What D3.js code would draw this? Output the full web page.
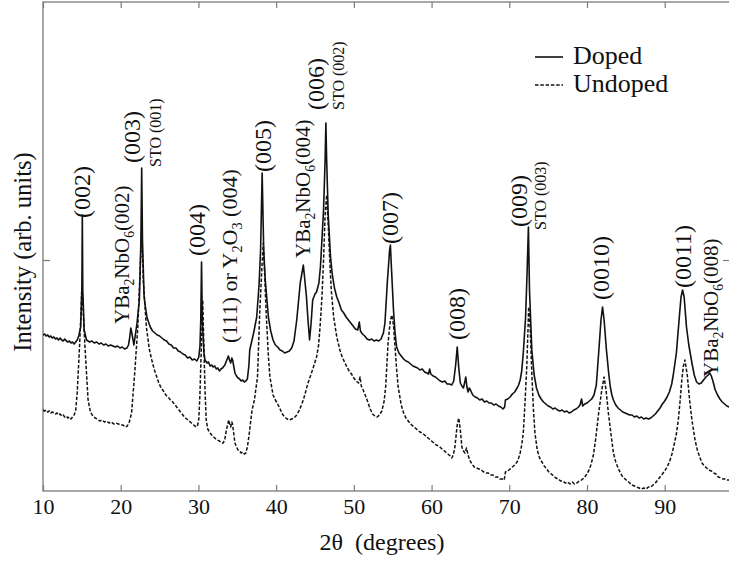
<!DOCTYPE html>
<html>
<head>
<meta charset="utf-8">
<script src="https://cdn.jsdelivr.net/npm/d3@7"></script>
<style>
  html, body { margin: 0; padding: 0; background: #fff; }
  svg { display: block; font-family: "Liberation Serif", "Times New Roman", "DejaVu Serif", serif; }
  svg text { font-family: "Liberation Serif", "Times New Roman", "DejaVu Serif", serif; fill: #111; }
</style>
</head>
<body>
<svg id="chart" width="729" height="562"></svg>
<script>
const SERIF = "'Liberation Serif', 'Times New Roman', 'DejaVu Serif', serif";

// XRD scans: [2θ (degrees), intensity (arb. units)]
const dopedScan = [
  [10.0,156],[10.2,157],[10.4,155],[10.6,156],[10.8,154],[11.0,155],[11.2,153],[11.4,154],[11.6,152],[11.8,153],
  [12.0,151],[12.2,153],[12.4,151],[12.6,150],[12.8,152],[13.0,150],[13.2,149],[13.4,150],[13.6,148],[13.8,149],
  [14.0,147],[14.2,149],[14.4,151],[14.6,155],[14.85,164],[15.0,201],[15.06,276],[15.12,201],[15.3,161],[15.6,151],
  [15.8,150],[16.0,149],[16.3,150],[16.6,148],[16.9,149],[17.2,147],[17.5,148],[17.8,146],[18.1,147],[18.4,145],
  [18.7,146],[19.0,145],[19.3,144],[19.6,145],[19.9,143],[20.2,144],[20.5,142],[20.8,143],[21.0,146],[21.15,153],
  [21.3,163],[21.5,155],[21.7,146],[21.9,157],[22.1,168],[22.4,191],[22.6,251],[22.7,323],[22.8,251],[23.0,196],
  [23.1,188],[23.4,173],[23.8,164],[24.1,160],[24.4,158],[24.7,156],[25.0,155],[25.3,153],[25.6,151],[25.9,150],
  [26.2,147],[26.5,146],[26.8,143],[27.1,143],[27.4,140],[27.7,139],[28.0,137],[28.3,136],[28.6,133],[28.9,134],
  [29.2,131],[29.5,132],[29.8,130],[30.05,134],[30.2,145],[30.3,171],[30.4,229],[30.5,171],[30.7,139],[30.85,131],
  [31.1,128],[31.3,129],[31.5,125],[31.7,126],[31.9,124],[32.1,125],[32.3,122],[32.5,123],[32.7,120],[32.9,122],
  [33.1,123],[33.4,126],[33.65,131],[33.85,135],[34.0,131],[34.15,128],[34.3,133],[34.4,131],[34.7,118],[34.9,115],
  [35.1,113],[35.3,112],[35.5,110],[35.7,111],[35.9,109],[36.1,110],[36.3,112],[36.5,126],[36.6,141],[36.9,151],
  [37.1,158],[37.5,174],[37.8,206],[38.0,241],[38.2,318],[38.4,241],[38.6,211],[39.0,174],[39.3,160],[39.6,151],
  [39.9,146],[40.2,144],[40.5,141],[40.8,140],[41.1,138],[41.4,139],[41.7,140],[42.0,143],[42.3,150],[42.65,171],
  [43.1,208],[43.5,226],[43.9,194],[44.1,171],[44.3,151],[44.5,168],[44.7,191],[45.0,197],[45.2,199],[45.5,208],
  [45.7,224],[46.1,281],[46.3,331],[46.4,368],[46.5,331],[46.7,276],[47.0,234],[47.2,218],[47.5,203],[47.8,194],
  [48.1,188],[48.4,181],[48.7,178],[49.0,174],[49.3,171],[49.6,168],[49.9,165],[50.2,162],[50.5,161],[50.7,169],
  [50.85,160],[51.1,157],[51.4,155],[51.7,152],[52.0,151],[52.3,152],[52.6,150],[52.9,151],[53.2,150],[53.5,152],
  [53.8,158],[54.0,168],[54.3,208],[54.6,241],[54.7,246],[54.85,221],[55.1,181],[55.3,158],[55.5,144],[55.8,138],
  [56.1,135],[56.4,132],[56.7,130],[57.0,129],[57.3,127],[57.6,125],[57.9,124],[58.2,123],[58.5,121],[58.8,122],
  [59.1,119],[59.4,118],[59.6,117],[59.75,122],[59.9,117],[60.2,115],[60.5,114],[60.8,112],[61.1,110],[61.4,109],
  [61.7,110],[62.0,107],[62.3,107],[62.6,106],[62.85,110],[63.1,126],[63.3,144],[63.5,123],[63.7,108],[63.9,105],
  [64.1,103],[64.3,110],[64.4,114],[64.55,104],[64.7,99],[64.85,103],[65.0,101],[65.3,96],[65.6,94],[65.9,93],
  [66.2,91],[66.5,92],[66.8,89],[67.1,90],[67.4,88],[67.7,88],[68.0,86],[68.3,87],[68.6,85],[68.9,84],
  [69.2,82],[69.4,84],[69.5,91],[69.8,92],[70.1,94],[70.4,97],[70.7,99],[71.0,103],[71.2,106],[71.4,111],
  [71.6,120],[71.8,138],[72.1,174],[72.3,221],[72.46,264],[72.6,201],[72.9,141],[73.2,116],[73.5,103],[73.8,96],
  [74.1,92],[74.4,89],[74.7,87],[75.0,85],[75.3,84],[75.6,82],[75.9,83],[76.2,81],[76.5,80],[76.8,81],
  [77.1,79],[77.4,80],[77.7,78],[78.0,79],[78.3,81],[78.6,82],[78.9,84],[79.1,86],[79.3,92],[79.45,85],
  [79.7,87],[80.0,88],[80.3,90],[80.6,92],[80.9,96],[81.2,106],[81.5,138],[81.8,171],[82.0,184],[82.2,171],
  [82.5,141],[82.8,117],[83.0,104],[83.2,96],[83.4,91],[83.7,86],[84.0,83],[84.3,81],[84.6,79],[84.9,78],
  [85.2,77],[85.5,76],[85.8,76],[86.1,74],[86.4,75],[86.7,73],[87.0,74],[87.3,72],[87.6,73],[87.9,72],
  [88.2,73],[88.5,75],[88.8,77],[89.1,80],[89.4,83],[89.7,87],[90.0,90],[90.3,94],[90.6,99],[90.9,107],
  [91.1,116],[91.5,138],[91.9,176],[92.1,194],[92.3,201],[92.5,194],[92.8,164],[93.1,146],[93.5,128],[93.8,116],
  [94.1,109],[94.4,107],[94.7,108],[95.0,111],[95.3,114],[95.6,116],[95.8,118],[96.0,115],[96.2,110],[96.5,101],
  [96.8,96],[97.1,92],[97.4,89],[97.7,87],[98.0,85],[98.3,84],[98.6,82],[99.0,81]
];

const undopedScan = [
  [10.0,81],[10.2,80],[10.4,81],[10.6,79],[10.8,80],[11.0,78],[11.2,79],[11.4,78],[11.6,77],[11.8,78],
  [12.0,76],[12.2,77],[12.4,75],[12.6,76],[12.8,74],[13.0,75],[13.2,73],[13.4,74],[13.6,72],[13.8,74],
  [14.0,76],[14.2,80],[14.4,98],[14.7,144],[14.9,181],[15.0,206],[15.1,191],[15.4,144],[15.8,91],[16.1,79],
  [16.4,75],[16.7,73],[17.0,72],[17.3,70],[17.6,71],[17.9,69],[18.2,70],[18.5,68],[18.8,69],[19.1,67],
  [19.4,68],[19.7,67],[20.0,66],[20.3,66],[20.6,64],[20.85,65],[21.1,69],[21.4,78],[21.8,118],[22.2,164],
  [22.5,221],[22.7,261],[22.9,211],[23.3,164],[23.7,141],[24.0,131],[24.3,122],[24.6,115],[24.9,108],[25.2,103],
  [25.5,100],[25.8,96],[26.1,94],[26.4,91],[26.7,89],[27.0,86],[27.3,83],[27.6,80],[27.9,77],[28.2,74],
  [28.5,72],[28.8,70],[29.1,68],[29.4,66],[29.7,64],[29.9,66],[30.05,72],[30.2,98],[30.4,151],[30.55,191],
  [30.7,146],[30.85,100],[31.0,71],[31.2,62],[31.5,58],[31.8,55],[32.1,53],[32.4,51],[32.7,50],[33.0,48],
  [33.2,48],[33.4,52],[33.6,61],[33.9,71],[34.05,66],[34.15,64],[34.3,69],[34.4,66],[34.7,48],[34.9,44],
  [35.1,41],[35.3,40],[35.5,38],[35.7,39],[35.9,37],[36.1,38],[36.3,44],[36.5,55],[36.9,81],[37.2,91],
  [37.6,114],[37.9,181],[38.15,221],[38.35,248],[38.5,221],[38.7,181],[39.0,135],[39.2,114],[39.6,96],[39.9,91],
  [40.2,87],[40.5,82],[40.8,77],[41.1,74],[41.4,72],[41.7,71],[42.0,72],[42.3,73],[42.65,76],[43.0,81],
  [43.5,91],[44.1,108],[44.5,117],[44.8,124],[45.2,134],[45.45,145],[45.65,164],[45.9,195],[46.1,231],[46.3,276],
  [46.5,296],[46.7,266],[46.9,231],[47.1,200],[47.4,174],[47.8,154],[48.2,141],[48.5,134],[48.8,129],[49.1,124],
  [49.4,120],[49.7,117],[50.0,113],[50.3,110],[50.6,108],[50.8,114],[50.95,105],[51.2,101],[51.5,95],[51.8,89],
  [52.1,82],[52.4,77],[52.7,75],[53.0,74],[53.3,76],[53.6,80],[53.9,90],[54.1,105],[54.4,148],[54.7,171],
  [54.9,176],[55.1,166],[55.3,144],[55.5,122],[55.7,104],[56.1,86],[56.4,78],[56.7,73],[57.0,70],[57.3,67],
  [57.6,65],[57.9,63],[58.2,61],[58.5,59],[58.8,58],[59.1,56],[59.4,54],[59.7,52],[60.0,50],[60.3,48],
  [60.6,46],[60.9,45],[61.2,43],[61.5,41],[61.8,39],[62.1,37],[62.4,35],[62.6,33],[62.8,36],[63.0,44],
  [63.3,66],[63.5,73],[63.7,61],[63.9,44],[64.1,40],[64.3,38],[64.5,43],[64.7,36],[64.9,31],[65.2,27],
  [65.5,24],[65.8,23],[66.1,22],[66.4,21],[66.7,19],[67.0,18],[67.3,18],[67.6,16],[67.9,16],[68.2,14],
  [68.5,14],[68.8,12],[69.1,12],[69.35,11],[69.5,19],[69.8,20],[70.1,22],[70.4,24],[70.7,26],[71.0,29],
  [71.2,33],[71.4,38],[71.6,46],[71.8,58],[72.0,85],[72.25,124],[72.5,184],[72.7,161],[72.9,118],[73.1,82],
  [73.3,58],[73.6,41],[73.9,33],[74.2,29],[74.5,25],[74.8,22],[75.1,19],[75.4,17],[75.7,15],[76.0,13],
  [76.3,12],[76.6,10],[76.9,10],[77.2,8],[77.5,9],[77.8,7],[78.1,9],[78.4,7],[78.7,8],[79.0,10],
  [79.3,11],[79.6,13],[79.9,16],[80.2,20],[80.5,26],[80.8,35],[81.1,51],[81.5,78],[81.9,101],[82.2,114],
  [82.45,101],[82.75,78],[83.1,56],[83.4,38],[83.7,29],[84.0,23],[84.3,18],[84.6,14],[84.9,12],[85.2,10],
  [85.5,8],[85.8,6],[86.1,5],[86.4,4],[86.7,3],[87.0,2],[87.3,3],[87.6,2],[87.9,4],[88.2,4],
  [88.5,6],[88.8,8],[89.1,11],[89.4,14],[89.7,17],[90.0,20],[90.3,24],[90.6,29],[90.9,36],[91.2,46],
  [91.5,57],[91.75,71],[92.0,92],[92.2,111],[92.4,125],[92.6,131],[92.9,116],[93.2,91],[93.5,71],[93.9,51],
  [94.2,41],[94.5,34],[94.8,28],[95.1,25],[95.4,23],[95.7,21],[96.0,20],[96.3,18],[96.6,17],[96.9,14],
  [97.2,13],[97.5,12],[97.8,12],[98.1,11],[98.4,11],[99.0,10]
];

const xTicks = [10, 20, 30, 40, 50, 60, 70, 80, 90];
const yTicks = [231];

const seriesNames = ["Doped", "Undoped"];

// Reflection labels: text parts [string, isSubscript], anchored at (2θ, intensity)
const peakLabels = [
  { parts: [["(002)", 0]], theta: 15.02, at: 273, size: 24 },
  { parts: [["YBa", 0], ["2", 1], ["NbO", 0], ["6", 1], ["(002)", 0]], theta: 20.17, at: 167, size: 21 },
  { parts: [["(003)", 0]], theta: 21.45, at: 328, size: 24 },
  { parts: [["STO (001)", 0]], theta: 24.41, at: 324, size: 16 },
  { parts: [["(004)", 0]], theta: 29.82, at: 235, size: 24 },
  { parts: [["(111) or Y", 0], ["2", 1], ["O", 0], ["3", 1], [" (004)", 0]], theta: 33.94, at: 148, size: 22 },
  { parts: [["(005)", 0]], theta: 38.31, at: 319, size: 24 },
  { parts: [["YBa", 0], ["2", 1], ["NbO", 0], ["6", 1], ["(004)", 0]], theta: 43.46, at: 233, size: 21 },
  { parts: [["(006)", 0]], theta: 45.13, at: 381, size: 24 },
  { parts: [["STO (002)", 0]], theta: 47.97, at: 381, size: 16 },
  { parts: [["(007)", 0]], theta: 54.66, at: 247, size: 24 },
  { parts: [["(008)", 0]], theta: 63.28, at: 151, size: 24 },
  { parts: [["(009)", 0]], theta: 71.26, at: 264, size: 24 },
  { parts: [["STO (003)", 0]], theta: 73.96, at: 261, size: 16 },
  { parts: [["(0010)", 0]], theta: 81.81, at: 191, size: 24 },
  { parts: [["(0011)", 0]], theta: 92.24, at: 203, size: 24 },
  { parts: [["YBa", 0], ["2", 1], ["NbO", 0], ["6", 1], ["(008)", 0]], theta: 95.97, at: 114, size: 21 }
];

const svg = d3.select("#chart");
const margin = { left: 43, top: 2, bottom: 71 };
const plotRight = 730;
const height = 562;

const x = d3.scaleLinear().domain([10, 98.4]).range([margin.left, plotRight]);
const y = d3.scaleLinear().domain([0, 489]).range([height - margin.bottom, margin.top]);

const frameColor = "#7a7a7a";

svg.append("defs").append("clipPath").attr("id", "plotClip")
  .append("rect")
  .attr("x", margin.left).attr("y", margin.top)
  .attr("width", plotRight - margin.left).attr("height", y(0) - margin.top);

// Frame
svg.append("rect")
  .attr("x", margin.left).attr("y", margin.top)
  .attr("width", plotRight - margin.left).attr("height", y(0) - margin.top)
  .attr("fill", "none").attr("stroke", frameColor).attr("stroke-width", 1.3);

function styleAxis(g) {
  g.attr("font-family", SERIF);
  g.select(".domain").remove();
  g.selectAll(".tick line").attr("stroke", frameColor).attr("stroke-width", 1.2);
  g.selectAll(".tick text").attr("fill", "#111").attr("font-family", SERIF).style("font-family", SERIF);
}

svg.append("g")
  .attr("transform", `translate(0,${y(0)})`)
  .call(d3.axisBottom(x).tickValues(xTicks).tickSizeInner(-6).tickSizeOuter(0).tickPadding(7).tickFormat(d3.format("d")))
  .call(styleAxis)
  .call(g => g.attr("font-size", 22).selectAll(".tick text").attr("font-size", 22));

svg.append("g")
  .attr("transform", `translate(0,${margin.top})`)
  .call(d3.axisTop(x).tickValues(xTicks).tickSizeInner(-6).tickSizeOuter(0).tickFormat(""))
  .call(styleAxis);

svg.append("g")
  .attr("transform", `translate(${margin.left},0)`)
  .call(d3.axisLeft(y).tickValues(yTicks).tickSizeInner(-7).tickSizeOuter(0).tickFormat(""))
  .call(styleAxis);

svg.append("g")
  .attr("transform", `translate(${plotRight},0)`)
  .call(d3.axisRight(y).tickValues(yTicks).tickSizeInner(-7).tickSizeOuter(0).tickFormat(""))
  .call(styleAxis);

// Scans
const line = d3.line().x(d => x(d[0])).y(d => y(d[1]));
const curves = svg.append("g").attr("clip-path", "url(#plotClip)");

curves.append("path").datum(undopedScan)
  .attr("d", line).attr("fill", "none")
  .attr("stroke", "#111").attr("stroke-width", 1.5)
  .attr("stroke-dasharray", "3.5,1.8").attr("stroke-linejoin", "round");

curves.append("path").datum(dopedScan)
  .attr("d", line).attr("fill", "none")
  .attr("stroke", "#111").attr("stroke-width", 1.6).attr("stroke-linejoin", "round");

// Reflection labels (rotated, reading bottom to top)
const labels = svg.append("g").attr("font-family", SERIF);
peakLabels.forEach(l => {
  const t = labels.append("text")
    .attr("transform", `translate(${x(l.theta)},${y(l.at)}) rotate(-90)`)
    .attr("dy", "0.35em")
    .attr("font-family", SERIF)
    .attr("font-size", l.size);
  let prevSub = false;
  l.parts.forEach(([s, sub]) => {
    const ts = t.append("tspan").text(s);
    if (sub) {
      ts.attr("font-size", l.size * 0.65).attr("dy", l.size * 0.22);
    } else if (prevSub) {
      ts.attr("dy", -l.size * 0.22);
    }
    prevSub = !!sub;
  });
});

// Legend
const legend = svg.append("g").attr("font-family", SERIF);
const legendRows = [
  { name: seriesNames[0], dash: null, ly: 57 },
  { name: seriesNames[1], dash: "3.5,1.8", ly: 85 }
];
legendRows.forEach(r => {
  legend.append("line")
    .attr("x1", 535).attr("x2", 563).attr("y1", r.ly).attr("y2", r.ly)
    .attr("stroke", "#111").attr("stroke-width", r.dash ? 1.3 : 1.6)
    .attr("stroke-dasharray", r.dash);
  legend.append("text")
    .attr("x", 573).attr("y", r.ly + 7)
    .attr("font-family", SERIF)
    .attr("font-size", 26).text(r.name);
});

// Axis titles
svg.append("text")
  .attr("x", 382).attr("y", 550)
  .attr("text-anchor", "middle").attr("font-size", 24)
  .attr("font-family", SERIF)
  .style("white-space", "pre")
  .text("2\u03b8  (degrees)");

svg.append("text")
  .attr("transform", "translate(31,252) rotate(-90)")
  .attr("text-anchor", "middle").attr("font-size", 24.5)
  .attr("font-family", SERIF)
  .text("Intensity (arb. units)");
</script>
</body>
</html>
